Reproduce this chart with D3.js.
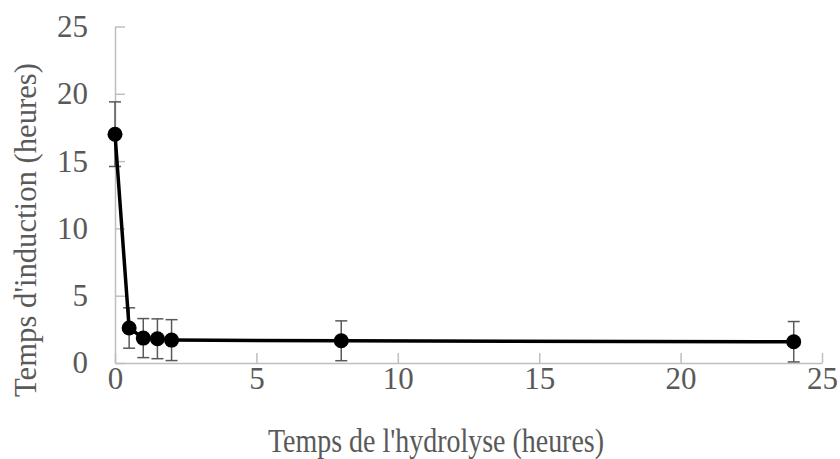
<!DOCTYPE html>
<html><head><meta charset="utf-8">
<script src="https://cdn.jsdelivr.net/npm/d3@7"></script>
<style>body{margin:0;background:#fff}svg{display:block}</style>
</head><body>
<svg id="c" width="840" height="459"></svg>
<script>
const hydrolysisHours = [0, 0.5, 1, 1.5, 2, 8, 24];
const inductionHours = [17, 2.6, 1.85, 1.8, 1.7, 1.65, 1.58];
const errorValues = [2.4, 1.5, 1.45, 1.48, 1.52, 1.48, 1.5];
const xTicks = [0, 5, 10, 15, 20, 25];
const yTicks = [0, 5, 10, 15, 20, 25];
const xTitle = "Temps de l'hydrolyse (heures)";
const yTitle = "Temps d'induction (heures)";

const svg = d3.select("#c");
const L = 115, R = 822, T = 26.5, B = 363;
const x = d3.scaleLinear().domain([0, 25]).range([L, R]);
const y = d3.scaleLinear().domain([0, 25]).range([B, T]);
const font = "'Liberation Serif','Times New Roman',serif";
const grey = "#595959", axisCol = "#bfbfbf";

// axes
const xAxis = svg.append("g").attr("transform", `translate(0,${B})`)
  .call(d3.axisBottom(x).tickValues(xTicks).tickSizeInner(-10).tickSizeOuter(0).tickPadding(4));
const yAxis = svg.append("g").attr("transform", `translate(${L},0)`)
  .call(d3.axisLeft(y).tickValues(yTicks).tickSizeInner(-10).tickSizeOuter(0).tickPadding(27));
[xAxis, yAxis].forEach(g => {
  g.select(".domain").attr("stroke", axisCol).attr("stroke-width", 1.5);
  g.selectAll(".tick line").attr("stroke", axisCol).attr("stroke-width", 1.5);
  g.selectAll(".tick text").attr("fill", grey)
    .style("font-family", font).style("font-size", "31px");
});

// error bars
const eb = svg.append("g").attr("stroke", grey).attr("stroke-width", 1.5);
hydrolysisHours.forEach((h, i) => {
  const cx = x(h), y1 = y(inductionHours[i] + errorValues[i]), y2 = y(Math.max(0, inductionHours[i] - errorValues[i]));
  eb.append("line").attr("x1", cx).attr("x2", cx).attr("y1", y1).attr("y2", y2);
  eb.append("line").attr("x1", cx - 6).attr("x2", cx + 6).attr("y1", y1).attr("y2", y1);
  eb.append("line").attr("x1", cx - 6).attr("x2", cx + 6).attr("y1", y2).attr("y2", y2);
});

// line
const pts = hydrolysisHours.map((h, i) => [h, inductionHours[i]]);
svg.append("path").datum(pts)
  .attr("d", d3.line().x(d => x(d[0])).y(d => y(d[1])))
  .attr("fill", "none").attr("stroke", "#000").attr("stroke-width", 3.5).attr("stroke-linejoin", "round");

// markers
svg.append("g").selectAll("circle").data(pts).join("circle")
  .attr("cx", d => x(d[0])).attr("cy", d => y(d[1])).attr("r", 7.5).attr("fill", "#000");

// titles
svg.append("text").attr("x", 436).attr("y", 452).attr("text-anchor", "middle")
  .attr("textLength", 336).attr("lengthAdjust", "spacingAndGlyphs")
  .style("font-family", font).style("font-size", "33px").attr("fill", grey).text(xTitle);
svg.append("text").attr("transform", "translate(36,230) rotate(-90)").attr("text-anchor", "middle")
  .attr("textLength", 334).attr("lengthAdjust", "spacingAndGlyphs")
  .style("font-family", font).style("font-size", "32px").attr("fill", grey).text(yTitle);
</script>
</body></html>
